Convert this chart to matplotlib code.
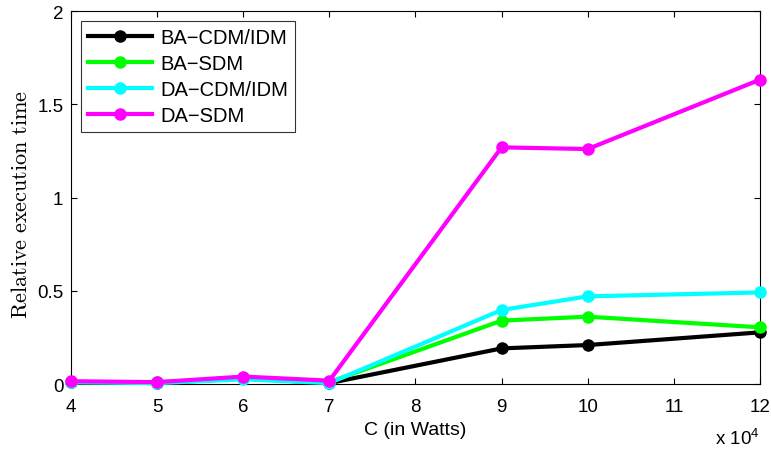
import matplotlib
matplotlib.use('Agg')
import matplotlib.pyplot as plt

plt.rcParams['font.family'] = ['Liberation Sans', 'DejaVu Sans']
plt.rcParams['mathtext.fontset'] = 'cm'
plt.rcParams['mathtext.rm'] = 'Liberation Sans'
plt.rcParams['mathtext.it'] = 'Liberation Sans'

# C in units of 10^4 Watts
c_watts = [4, 5, 6, 7, 9, 10, 12]
ba_cdm = [0.01, 0.005, 0.03, 0.005, 0.191, 0.209, 0.277]
ba_sdm = [0.01, 0.01, 0.03, 0.01, 0.34, 0.361, 0.304]
da_cdm = [0.01, 0.005, 0.025, 0.005, 0.397, 0.470, 0.491]
da_sdm = [0.015, 0.01, 0.04, 0.018, 1.269, 1.260, 1.632]

series = [
    ('BA\u2212CDM/IDM', ba_cdm, '#000000'),
    ('BA\u2212SDM', ba_sdm, '#00ff00'),
    ('DA\u2212CDM/IDM', da_cdm, '#00ffff'),
    ('DA\u2212SDM', da_sdm, '#ff00ff'),
]

fig = plt.figure(figsize=(7.71, 4.52), dpi=100)
ax = fig.add_axes([0.0921, 0.1482, 0.8936, 0.8252])

for label, vals, color in series:
    ax.plot(c_watts, vals, '-o', color=color, lw=3, ms=8, label=label,
            clip_on=False, zorder=3)

ax.set_xlim(4, 12)
ax.set_ylim(0, 2)
ax.set_xticks(range(4, 13))
ax.set_yticks([0, 0.5, 1, 1.5, 2])
ax.set_yticklabels(['0', '0.5', '1', '1.5', '2'])
ax.tick_params(direction='in', top=True, right=True, labelsize=13.5,
               length=4)
ax.tick_params(axis='x', pad=10)
ax.tick_params(axis='y', pad=5.5)
for sp in ax.spines.values():
    sp.set_linewidth(0.8)

ax.set_xlabel('C (in Watts)', fontsize=14, labelpad=4.5)
ax.set_ylabel(r'$\mathrm{Relative\ execution\ time}$', fontsize=16)
ax.yaxis.set_label_coords(-0.056, 0.485)
ax.text(1.0, -0.172, r'x 10$^4$', transform=ax.transAxes, ha='right',
        va='bottom', fontsize=13.5, math_fontfamily='custom')

leg = ax.legend(loc='upper left', fontsize=14.5, frameon=True, fancybox=False,
                edgecolor='black', handlelength=3.2, handletextpad=0.4,
                borderpad=0.35, labelspacing=0.34, borderaxespad=0,
                bbox_to_anchor=(0.0145, 0.973))
leg.get_frame().set_linewidth(0.8)

fig.savefig('out.png', dpi=100)
